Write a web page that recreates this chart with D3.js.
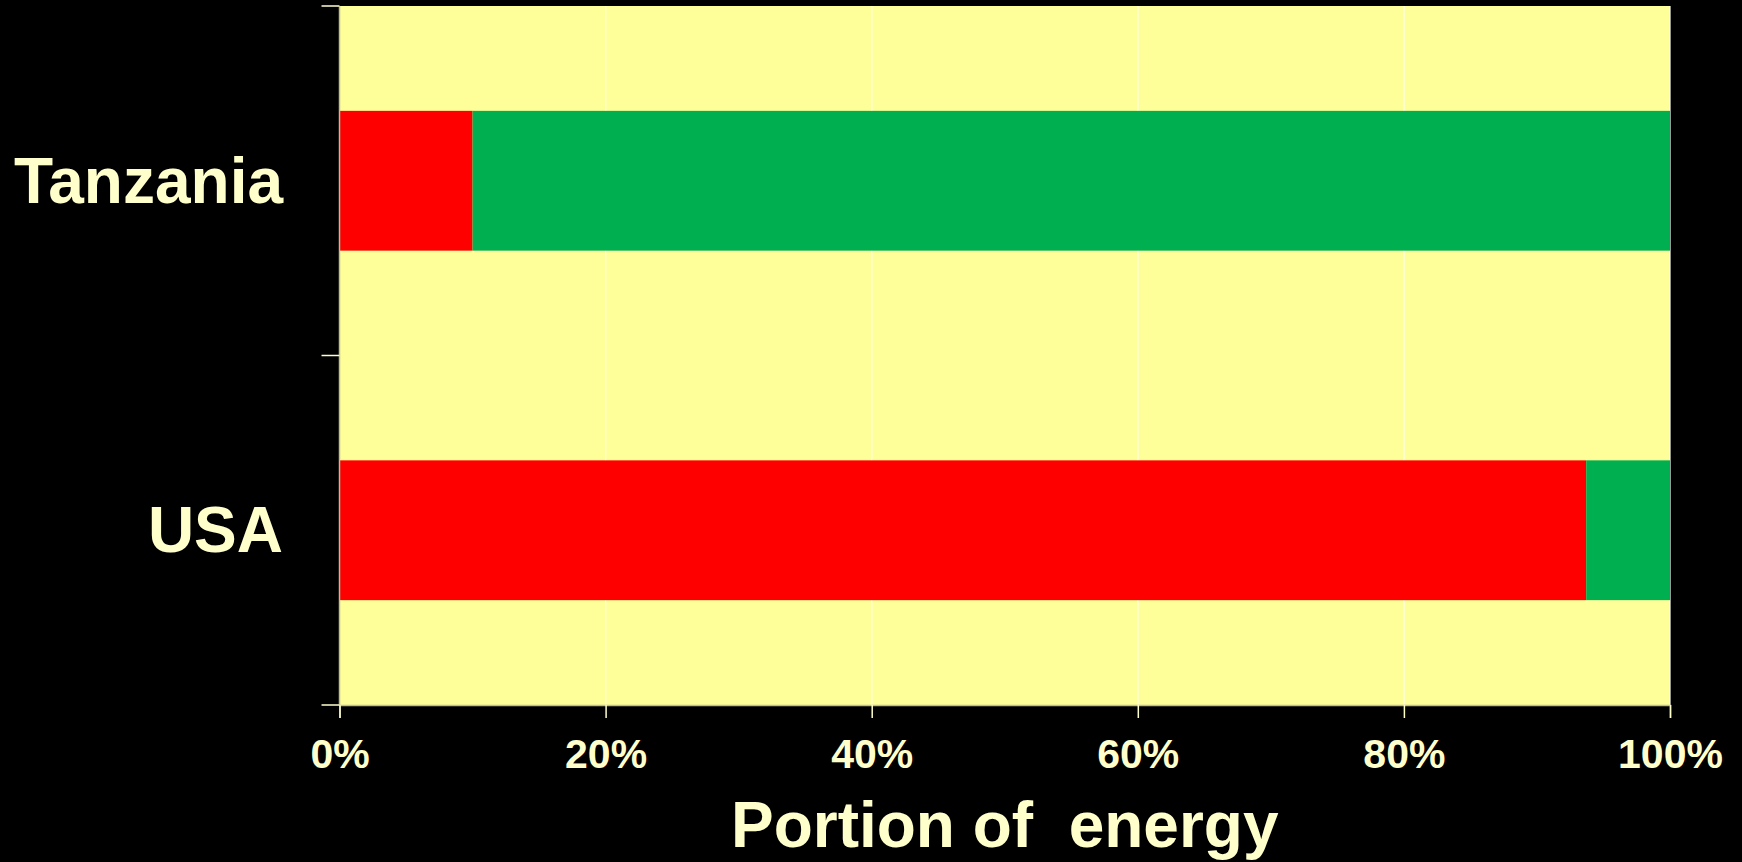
<!DOCTYPE html>
<html><head><meta charset="utf-8">
<script src="https://cdn.jsdelivr.net/npm/d3@7"></script>
<style>html,body{margin:0;padding:0;background:#000;}svg{display:block;}</style>
</head><body>
<svg id="c" width="1742" height="862"></svg>
<script>
const categories = ["Tanzania", "USA"];
const seriesNames = ["Fossil", "Renewable"];
const fossil = [10, 93.7];
const renewable = [90, 6.3];
const xTicks = [0, 20, 40, 60, 80, 100];
const xTickLabels = ["0%", "20%", "40%", "60%", "80%", "100%"];
const axisTitle = "Portion of  energy";

const W = 1742, H = 862;
const m = {left: 339.5, right: 1670, top: 6, bottom: 705};
const svg = d3.select("#c");
svg.append("rect").attr("width", W).attr("height", H).attr("fill", "#000");

const x = d3.scaleLinear().domain([0, 100]).range([m.left, m.right]);
const y = d3.scaleBand().domain(categories).range([m.top, m.bottom]).padding(0);
const barH = y.bandwidth() * 0.4;
const txtCol = "#FFFFCC";

// plot background
svg.append("rect").attr("x", m.left).attr("y", m.top)
  .attr("width", m.right - m.left).attr("height", m.bottom - m.top).attr("fill", "#FFFF99");

// gridlines
svg.append("g").selectAll("line").data(xTicks.slice(1)).join("line")
  .attr("x1", d => x(d)).attr("x2", d => x(d))
  .attr("y1", m.top).attr("y2", m.bottom)
  .attr("stroke", "#FFFFFF").attr("stroke-width", 1.2);

// stacked bars
const rows = categories.map((c, i) => ({cat: c, Fossil: fossil[i], Renewable: renewable[i]}));
const stack = d3.stack().keys(seriesNames)(rows);
const colors = {Fossil: "#FF0000", Renewable: "#00B050"};
svg.append("g").selectAll("g").data(stack).join("g")
  .attr("fill", s => colors[s.key])
  .selectAll("rect").data(s => s).join("rect")
  .attr("x", d => x(d[0])).attr("width", d => x(d[1]) - x(d[0]))
  .attr("y", d => y(d.data.cat) + (y.bandwidth() - barH) / 2)
  .attr("height", barH);

// x axis
const xAxis = d3.axisBottom(x).tickValues(xTicks).tickSize(13).tickPadding(10)
  .tickFormat((d, i) => xTickLabels[i]);
const gx = svg.append("g").attr("transform", `translate(0,${m.bottom})`).call(xAxis);
gx.select(".domain").attr("stroke", "#BDBD9A").attr("stroke-width", 1.5);
gx.selectAll(".tick line").attr("stroke", txtCol).attr("stroke-width", 1.5);
gx.selectAll(".tick text").attr("fill", txtCol)
  .attr("font-family", "'Liberation Sans', Arial, sans-serif")
  .attr("font-weight", "bold").attr("font-size", 41)
  .attr("dy", null).attr("y", 63);

// y axis (ticks at band boundaries)
const gy = svg.append("g").attr("transform", `translate(${m.left},0)`);
gy.append("line").attr("x1", 0).attr("x2", 0).attr("y1", m.top).attr("y2", m.bottom)
  .attr("stroke", "#BDBD9A").attr("stroke-width", 1.5);
const bounds = categories.map(c => y(c)).concat([m.bottom]);
gy.selectAll("line.t").data(bounds).join("line").attr("class", "t")
  .attr("x1", -18).attr("x2", 0).attr("y1", d => d).attr("y2", d => d)
  .attr("stroke", txtCol).attr("stroke-width", 1.5);
gy.selectAll("text").data(categories).join("text")
  .attr("x", 283 - m.left).attr("y", d => y(d) + y.bandwidth() / 2 + 22)
  .attr("text-anchor", "end").attr("fill", txtCol)
  .attr("font-family", "'Liberation Sans', Arial, sans-serif")
  .attr("font-weight", "bold").attr("font-size", 64)
  .text(d => d);

// axis title
svg.append("text").attr("x", (m.left + m.right) / 2).attr("y", 847)
  .attr("text-anchor", "middle").attr("fill", txtCol)
  .attr("font-family", "'Liberation Sans', Arial, sans-serif")
  .attr("font-weight", "bold").attr("font-size", 64)
  .attr("xml:space", "preserve").style("white-space", "pre")
  .text(axisTitle);
</script>
</body></html>
